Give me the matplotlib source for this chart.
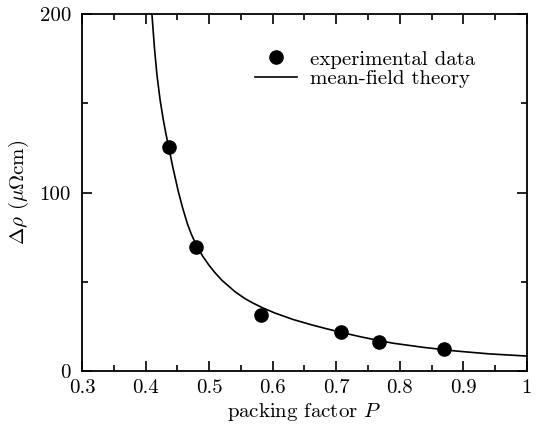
import matplotlib
matplotlib.use("Agg")
import matplotlib.pyplot as plt
from matplotlib.ticker import MultipleLocator

plt.rcParams['font.family'] = 'serif'
plt.rcParams['font.serif'] = ['cmr10']
plt.rcParams['mathtext.fontset'] = 'cm'
plt.rcParams['axes.formatter.use_mathtext'] = True
plt.rcParams['font.size'] = 15

# experimental data
exp_P = [0.437, 0.479, 0.582, 0.708, 0.767, 0.869]
exp_rho = [125.7, 69.7, 31.4, 22.0, 16.4, 12.5]

# mean-field theory curve
theory_P = [0.410, 0.414, 0.418, 0.423, 0.428, 0.432, 0.437, 0.443, 0.4514,
            0.458, 0.466, 0.472, 0.4777, 0.4896, 0.500, 0.509, 0.520, 0.5406,
            0.5563, 0.570, 0.585, 0.6035, 0.632, 0.660, 0.6847, 0.710, 0.737,
            0.760, 0.7895, 0.8366, 0.889, 0.9415, 1.000]
theory_rho = [200, 181, 165.6, 151.6, 140.6, 133, 124.5, 114, 100.8,
              91.8, 82.3, 76.7, 72.2, 64.5, 59.2, 55.2, 50.9, 44.5,
              40.6, 37.9, 35.3, 32.5, 28.9, 26.0, 23.7, 21.5, 19.3,
              17.6, 15.6, 13.3, 11.2, 9.6, 8.4]

x_ticks = [0.3, 0.4, 0.5, 0.6, 0.7, 0.8, 0.9, 1.0]
x_ticklabels = ['0.3', '0.4', '0.5', '0.6', '0.7', '0.8', '0.9', '1']
y_ticks = [0, 100, 200]
y_ticklabels = ['0', '100', '200']

fig = plt.figure(figsize=(5.36, 4.26), dpi=100)
ax = fig.add_axes([0.153, 0.129, 0.830, 0.838])

ax.plot(exp_P, exp_rho, 'o', color='black', markersize=9.5, label='experimental data', zorder=3)
ax.plot(theory_P, theory_rho, '-', color='black', linewidth=1.2,
        solid_joinstyle='round', label='mean-field theory')

ax.set_xlim(0.3, 1.0)
ax.set_ylim(0, 200)
ax.set_xticks(x_ticks)
ax.set_xticklabels(x_ticklabels)
ax.xaxis.set_minor_locator(MultipleLocator(0.05))
ax.set_yticks(y_ticks)
ax.set_yticklabels(y_ticklabels)
ax.yaxis.set_minor_locator(MultipleLocator(50))
ax.tick_params(which='both', direction='in', top=True, right=True, width=1.2)
ax.tick_params(which='major', length=7)
ax.tick_params(axis='x', which='major', pad=6)
ax.tick_params(axis='y', which='major', pad=8)
ax.tick_params(which='minor', length=4)
for s in ax.spines.values():
    s.set_linewidth(1.3)

ax.set_xlabel('packing factor $P$', labelpad=3)
ylab = ax.set_ylabel(r'$\varDelta\rho$ ($\mu\Omega$cm)', labelpad=6)

ax.legend(loc='upper left', frameon=False,
          bbox_to_anchor=(255 / 536, 1 - 50 / 426), bbox_transform=fig.transFigure,
          borderpad=0, borderaxespad=0,
          handlelength=2.0, handletextpad=0.62, labelspacing=0.05)

try:
    fig.canvas.draw()
except Exception:
    ax.set_ylabel(r'$\mathit{\Delta}\rho$ ($\mu\Omega$cm)', labelpad=6)

fig.savefig('out.png', dpi=100)
